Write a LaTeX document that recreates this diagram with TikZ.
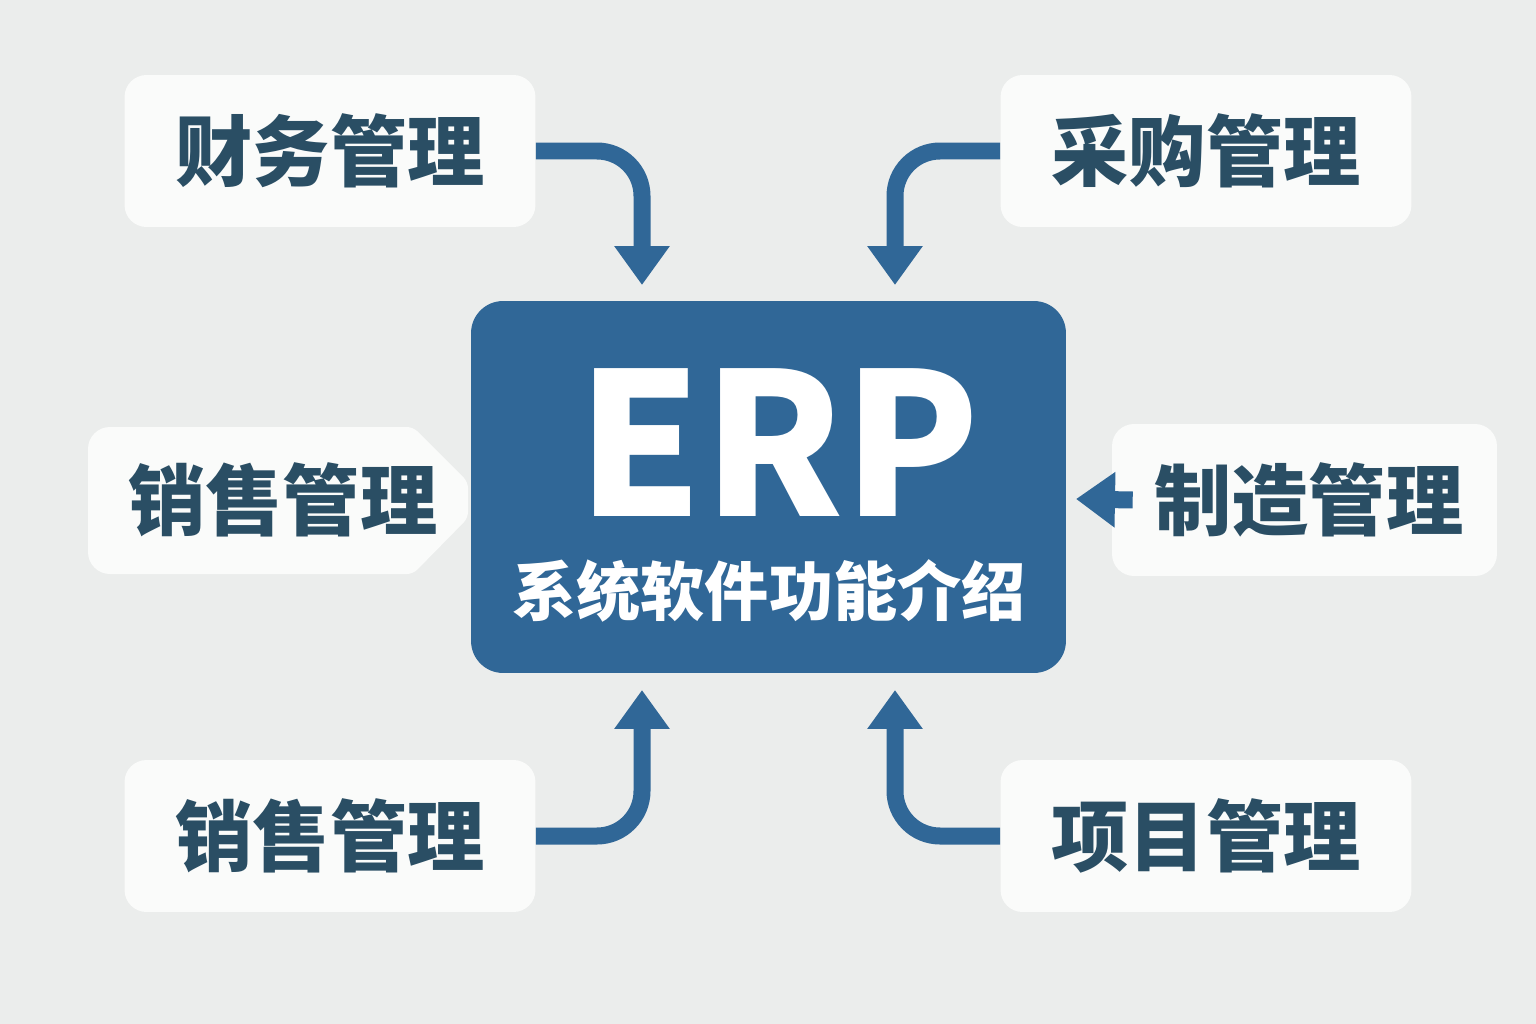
\documentclass[tikz,border=0pt]{standalone}
\usepackage{fontspec}
\newfontfamily\cjk{Noto Sans CJK SC}
\usetikzlibrary{arrows.meta}
\definecolor{bgcol}{RGB}{235,237,236}
\definecolor{boxcol}{RGB}{250,251,250}
\definecolor{erpblue}{RGB}{48,103,151}
\definecolor{textcol}{RGB}{42,78,100}
\begin{document}
\begin{tikzpicture}[x=0.02cm,y=-0.02cm]
    \tikzstyle{module}=[fill=boxcol,rounded corners=0.44cm,minimum width=8.22cm,minimum height=3.04cm]
    \tikzstyle{modtext}=[text=textcol,font=\cjk\bfseries\fontsize{44}{44}\selectfont]
    \tikzstyle{flow}=[erpblue,line width=0.34cm,rounded corners=0.9cm,-{Triangle[width=1.06cm,length=0.78cm]}]
    % background
    \useasboundingbox (0,0) rectangle (1536,1024);
    \fill[bgcol] (0,0) rectangle (1536,1024);
    % centre box
    \node[fill=erpblue,rounded corners=0.64cm,minimum width=11.9cm,minimum height=7.44cm] (erp) at (768.5,487) {};
    \node[text=white,font=\cjk\bfseries\fontsize{113}{113}\selectfont] (erptitle) at (779,443) {ERP};
    \node[text=white,font=\cjk\bfseries\fontsize{36.5}{36.5}\selectfont] (erpsub) at (769,591) {系统软件功能介绍};
    % modules
    \node[module,modtext] (fin) at (330,151) {财务管理};
    \node[module,modtext] (pur) at (1206,151) {采购管理};
    \node[module,modtext] (sal) at (330,836) {销售管理};
    \node[module,modtext] (pro) at (1206,836) {项目管理};
    \node[module,modtext,minimum width=7.7cm,text width=6.36cm,align=right] (mfg) at (1304.5,500) {制造管理};
    % left module with pointer
    \fill[boxcol] [rounded corners=0.44cm] (88,500) -- (88,427) [rounded corners=0.12cm] -- (413,427) -- (468,482) -- (468,518) -- (413,574) [rounded corners=0.44cm] -- (88,574) -- cycle;
    \node[modtext] (sel) at (283,500) {销售管理};
    % arrow ends
    \coordinate (finend) at (642,285);
    \coordinate (purend) at (895,285);
    \coordinate (salend) at (642,690);
    \coordinate (proend) at (895,690);
    \coordinate (mfgend) at (1076,499);
    % arrows
    \draw[flow] (fin.east) -| (finend);
    \draw[flow] (pur.west) -| (purend);
    \draw[flow] (sal.east) -| (salend);
    \draw[flow] (pro.west) -| (proend);
    \draw[flow] ([xshift=0.42cm]mfg.west) -- (mfgend);
\end{tikzpicture}
\end{document}
